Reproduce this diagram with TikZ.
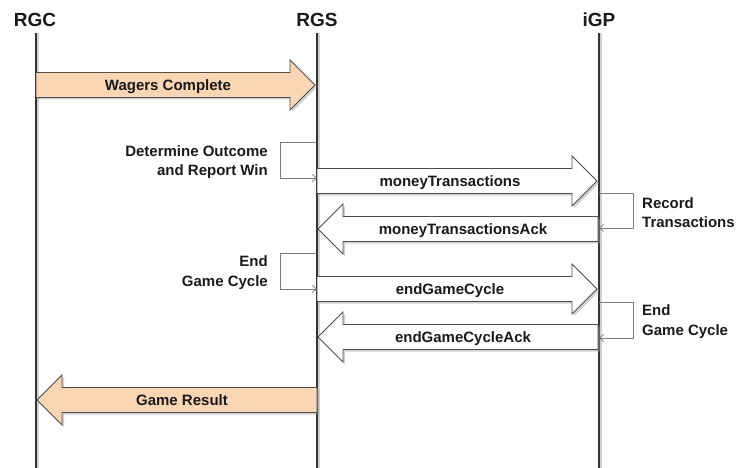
\documentclass[tikz,border=0pt]{standalone}
\usepackage{fontspec}
\setmainfont{Liberation Sans}
\usetikzlibrary{arrows.meta,shadows}
\definecolor{peach}{HTML}{FCD5B5}
\definecolor{outl}{HTML}{4D4D4D}
\definecolor{lifec}{HTML}{333333}
\definecolor{txt}{HTML}{1A1A1A}
\definecolor{loopc}{HTML}{7F7F7F}
% right-pointing block arrow: style, tail x, tip x, centre y
\newcommand\RBlk[4]{\draw[#1] (#2,#4-12.5) -- (#3-25,#4-12.5) -- (#3-25,#4-25) -- (#3,#4) -- (#3-25,#4+25) -- (#3-25,#4+12.5) -- (#2,#4+12.5) -- cycle;}
% left-pointing block arrow: style, tail x, tip x, centre y
\newcommand\LBlk[4]{\draw[#1] (#2,#4-12.5) -- (#3+25,#4-12.5) -- (#3+25,#4-25) -- (#3,#4) -- (#3+25,#4+25) -- (#3+25,#4+12.5) -- (#2,#4+12.5) -- cycle;}
\begin{document}
\begin{tikzpicture}[x=1pt,y=-1pt,
  hdr/.style={font=\fontsize{19}{22}\selectfont\bfseries, text=txt, inner sep=0, anchor=base},
  life/.style={draw=lifec, line width=1.4pt},
  lifeshadow/.style={draw=black!18, line width=2pt},
  blk/.style={draw=outl, line width=0.9pt, drop shadow={shadow xshift=2pt, shadow yshift=-2pt, fill=black!40, opacity=0.45}},
  blkpeach/.style={blk, fill=peach},
  blkwhite/.style={blk, fill=white},
  lbl/.style={font=\fontsize{15}{18}\selectfont\bfseries, text=txt, inner sep=0, anchor=base},
  note/.style={font=\fontsize{15}{19.5}\selectfont\bfseries, text=txt, inner sep=0},
  selfl/.style={draw=loopc, line width=0.8pt, -{Straight Barb[length=4pt,width=7pt]}}]
\useasboundingbox (0,0) rectangle (744,468);
\fill[white] (0,0) rectangle (744,468);

% lifelines
\node[hdr] (rgc) at (35,27) {RGC};
\node[hdr] (rgs) at (317,27) {RGS};
\node[hdr] (igp) at (599,27) {iGP};
\coordinate (rgcT) at (36,33);  \coordinate (rgcB) at (36,468);
\coordinate (rgsT) at (317,33); \coordinate (rgsB) at (317,468);
\coordinate (igpT) at (599,33); \coordinate (igpB) at (599,468);
\foreach \n in {rgc,rgs,igp}{
  \draw[lifeshadow] ([xshift=2pt]\n T) -- ([xshift=2pt]\n B);
  \draw[life] (\n T) -- (\n B);
}

% block arrows
\RBlk{blkpeach}{36}{315}{85}
\node[lbl] (wc) at (168,90.5) {Wagers Complete};

\RBlk{blkwhite}{317}{597}{181}
\node[lbl] (mt) at (450,186.5) {moneyTransactions};

\LBlk{blkwhite}{598}{318}{229}
\node[lbl] (mta) at (463,234.5) {moneyTransactionsAck};

\RBlk{blkwhite}{317}{597}{289}
\node[lbl] (egc) at (450,294.5) {endGameCycle};

\LBlk{blkwhite}{598}{318}{337}
\node[lbl] (egca) at (463,342.5) {endGameCycleAck};

\LBlk{blkpeach}{317}{37}{400}
\node[lbl] (gr) at (182,405.5) {Game Result};

% self loops
\coordinate (l1a) at (317,142); \coordinate (l1b) at (317,178);
\draw[selfl] (l1a) -- (280,142) -- (280,178) -- (l1b);
\node[note, anchor=east, align=right] (det) at (268,162) {Determine Outcome\\and Report Win};

\coordinate (l2a) at (599,193); \coordinate (l2b) at (599,228);
\draw[selfl] (l2a) -- (633,193) -- (633,228) -- (l2b);
\node[note, anchor=west, align=left] (rec) at (642,212.5) {Record\\Transactions};

\coordinate (l3a) at (317,253); \coordinate (l3b) at (317,289);
\draw[selfl] (l3a) -- (280,253) -- (280,289) -- (l3b);
\node[note, anchor=east, align=right] (end1) at (268,272.5) {End\\Game Cycle};

\coordinate (l4a) at (599,302); \coordinate (l4b) at (599,338);
\draw[selfl] (l4a) -- (633,302) -- (633,338) -- (l4b);
\node[note, anchor=west, align=left] (end2) at (642,321.5) {End\\Game Cycle};
\end{tikzpicture}
\end{document}
